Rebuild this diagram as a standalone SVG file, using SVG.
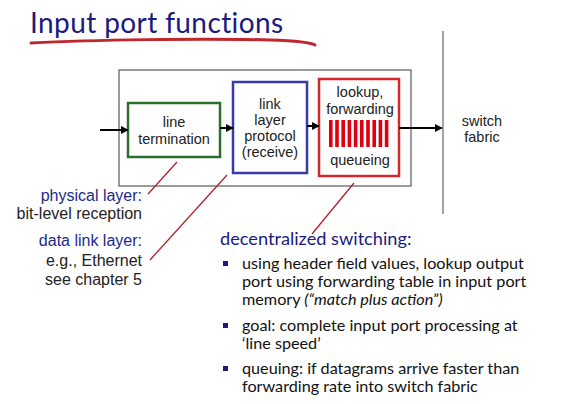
<svg xmlns="http://www.w3.org/2000/svg" width="580" height="404" viewBox="0 0 580 404">
<defs>
<marker id="ah" viewBox="0 0 10 10" refX="9" refY="5" markerWidth="4" markerHeight="4" orient="auto" markerUnits="strokeWidth">
<path d="M0,0 L10,5 L0,10 z" fill="#000"/>
</marker>
<style>
.box{font-family:"Liberation Sans",Arial,sans-serif;font-size:14.5px;fill:#222;text-anchor:middle}
.lbl{font-family:"Liberation Sans",Arial,sans-serif;font-size:16px;text-anchor:end}
.navy{fill:#1c2a8a}
.blk{fill:#222}
.gill{font-family:Lato,"Open Sans",sans-serif;fill:#111}
.conn{stroke:#000;stroke-width:2;fill:none;marker-end:url(#ah)}
.call{stroke:#b0202a;stroke-width:1.3;fill:none}
</style>
</defs>
<rect width="580" height="404" fill="#fff"/>
<g id="title">
<text x="30" y="33" font-family="Lato,'Open Sans',sans-serif" font-size="28" letter-spacing="0.4" fill="#1a1a80">Input port functions</text>
<path d="M31,43 C90,40 200,38 270,40 C300,41 312,43 315,45" stroke="#c0262d" stroke-width="3" fill="none" stroke-linecap="round"/>
</g>
<g id="input-port">
<rect x="119" y="70" width="292" height="116" fill="none" stroke="#7a7a7a" stroke-width="1.5"/>
</g>
<g id="fabric-line">
<line x1="443" y1="31" x2="443" y2="214" stroke="#666" stroke-width="1.2"/>
</g>
<g id="line-termination">
<rect x="128" y="103" width="92" height="54" fill="#fff" stroke="#2c6e2c" stroke-width="2.5"/>
<text class="box" x="174" y="127">line</text>
<text class="box" x="174" y="144">termination</text>
</g>
<g id="link-layer">
<rect x="233" y="82" width="74" height="91" fill="#fff" stroke="#3a3aa8" stroke-width="2.5"/>
<text class="box" x="270" y="109">link</text>
<text class="box" x="270" y="125">layer</text>
<text class="box" x="270" y="141">protocol</text>
<text class="box" x="270" y="157">(receive)</text>
</g>
<g id="lookup">
<rect x="319" y="79" width="80" height="97" fill="#fff" stroke="#d4282d" stroke-width="2.5"/>
<text class="box" x="360" y="97">lookup,</text>
<text class="box" x="360" y="114">forwarding</text>
<g fill="#e00010">
<rect x="329" y="120" width="3.6" height="27"/>
<rect x="335.2" y="120" width="3.6" height="27"/>
<rect x="341.4" y="120" width="3.6" height="27"/>
<rect x="347.6" y="120" width="3.6" height="27"/>
<rect x="353.8" y="120" width="3.6" height="27"/>
<rect x="360" y="120" width="3.6" height="27"/>
<rect x="366.2" y="120" width="3.6" height="27"/>
<rect x="372.4" y="120" width="3.6" height="27"/>
<rect x="378.6" y="120" width="3.6" height="27"/>
<rect x="384.8" y="120" width="3.6" height="27"/>
</g>
<text class="box" x="360" y="165">queueing</text>
</g>
<g id="switch-fabric">
<text class="box" x="482" y="126">switch</text>
<text class="box" x="482" y="142">fabric</text>
</g>
<g id="connectors">
<line class="conn" x1="100" y1="130" x2="128" y2="130"/>
<line class="conn" x1="220" y1="128" x2="233" y2="128"/>
<line class="conn" x1="307" y1="126" x2="319" y2="126"/>
<line class="conn" x1="399" y1="128" x2="442" y2="128"/>
<line class="call" x1="148" y1="194" x2="177" y2="162"/>
<line class="call" x1="150" y1="260" x2="227" y2="175"/>
<line class="call" x1="354" y1="183" x2="312" y2="234"/>
</g>
<g id="physical-label">
<text class="lbl navy" x="142" y="201">physical layer:</text>
<text class="lbl blk" x="142" y="219">bit-level reception</text>
</g>
<g id="datalink-label">
<text class="lbl navy" x="142" y="246">data link layer:</text>
<text class="lbl blk" x="142" y="266">e.g., Ethernet</text>
<text class="lbl blk" x="142" y="285">see chapter 5</text>
</g>
<g id="decentralized">
<text x="220" y="245" font-family="Lato,'Open Sans',sans-serif" font-size="18.2" fill="#1a1a80">decentralized switching:</text>
<g fill="#1a1a80">
<rect x="223" y="261" width="5" height="5"/>
<rect x="223" y="323" width="5" height="5"/>
<rect x="223" y="366" width="5" height="5"/>
</g>
<g class="gill" font-size="16.2">
<text x="242" y="269">using header field values, lookup output</text>
<text x="242" y="287">port using forwarding table in input port</text>
<text x="242" y="305">memory <tspan font-style="italic">(“match plus action”)</tspan></text>
<text x="242" y="331">goal: complete input port processing at</text>
<text x="242" y="349">‘line speed’</text>
<text x="242" y="374">queuing: if datagrams arrive faster than</text>
<text x="242" y="392">forwarding rate into switch fabric</text>
</g>
</g>
</svg>
